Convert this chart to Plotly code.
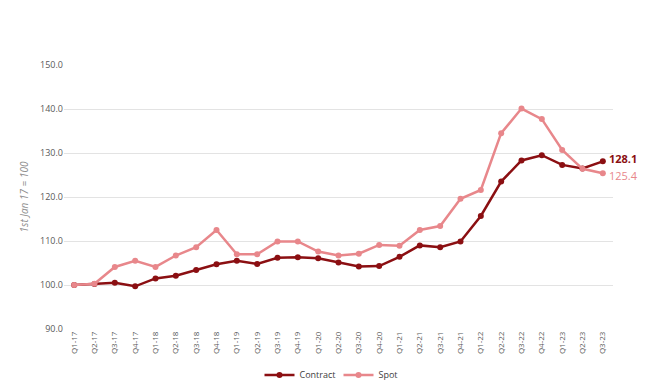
import plotly.graph_objects as go

quarters = ["Q1-17","Q2-17","Q3-17","Q4-17","Q1-18","Q2-18","Q3-18","Q4-18",
            "Q1-19","Q2-19","Q3-19","Q4-19","Q1-20","Q2-20","Q3-20","Q4-20",
            "Q1-21","Q2-21","Q3-21","Q4-21","Q1-22","Q2-22","Q3-22","Q4-22",
            "Q1-23","Q2-23","Q3-23"]
contract = [100.0, 100.2, 100.5, 99.7, 101.5, 102.1, 103.4, 104.7,
            105.5, 104.8, 106.2, 106.3, 106.1, 105.1, 104.2, 104.3,
            106.4, 109.0, 108.6, 109.9, 115.7, 123.5, 128.3, 129.5,
            127.3, 126.5, 128.1]
spot = [100.0, 100.3, 104.1, 105.5, 104.1, 106.7, 108.6, 112.5,
        107.0, 107.0, 109.9, 109.9, 107.6, 106.7, 107.1, 109.1,
        108.9, 112.5, 113.4, 119.6, 121.6, 134.5, 140.1, 137.7,
        130.7, 126.4, 125.4]

c_col = "#8B0F12"
s_col = "#E8878B"

fig = go.Figure()
fig.add_trace(go.Scatter(x=quarters, y=contract, name="Contract", mode="lines+markers",
                         line=dict(color=c_col, width=2.5), marker=dict(size=6, color=c_col)))
fig.add_trace(go.Scatter(x=quarters, y=spot, name="Spot", mode="lines+markers",
                         line=dict(color=s_col, width=2.5), marker=dict(size=6, color=s_col)))

fig.add_annotation(x=quarters[-1], y=contract[-1], text="<b>128.1</b>", showarrow=False,
                   xanchor="left", xshift=4, yshift=3, font=dict(size=11, color=c_col))
fig.add_annotation(x=quarters[-1], y=spot[-1], text="125.4", showarrow=False,
                   xanchor="left", xshift=4, yshift=-2, font=dict(size=11, color=s_col))

fig.update_layout(
    width=641, height=381,
    margin=dict(l=56, r=36, t=57, b=60, autoexpand=False),
    paper_bgcolor="white", plot_bgcolor="white",
    font=dict(family="Open Sans, Liberation Sans, sans-serif", color="#595959"),
    showlegend=True,
    legend=dict(orientation="h", x=0.5, xanchor="center", y=-0.174, yanchor="middle",
                font=dict(size=9, color="#404040"), itemwidth=30, entrywidth=34,
                traceorder="normal"),
    xaxis=dict(type="category", range=[-0.5, 26.5], tickangle=-90,
               tickfont=dict(size=8, color="#595959"), showgrid=False,
               showline=False, ticks=""),
    yaxis=dict(range=[90, 150], dtick=10, tickformat=".1f",
               tickfont=dict(size=9, color="#595959"), gridcolor="#E3E3E3", gridwidth=1,
               zeroline=False, showline=False, ticks="",
               title=dict(text="<i>1st Jan 17 = 100</i>", font=dict(size=10, color="#8C8C8C"),
                          standoff=9)),
)

fig.write_html("out.html")
